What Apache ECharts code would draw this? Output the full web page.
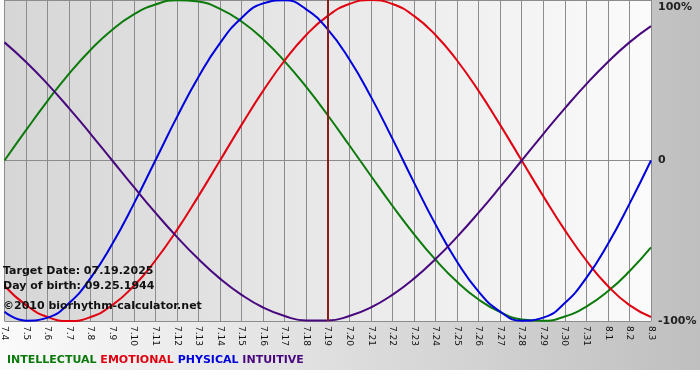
<!DOCTYPE html>
<html>
<head>
<meta charset="utf-8">
<script src="https://cdn.jsdelivr.net/npm/echarts@6/dist/echarts.min.js"></script>
<style>
  html, body { margin: 0; padding: 0; background: #fff; }
  #chart { width: 700px; height: 380px; }
</style>
</head>
<body>
<div id="chart"></div>
<script>
// days shown on the x axis
var days = ['7.4', '7.5', '7.6', '7.7', '7.8', '7.9', '7.10', '7.11', '7.12', '7.13', '7.14',
    '7.15', '7.16', '7.17', '7.18', '7.19', '7.20', '7.21', '7.22', '7.23', '7.24', '7.25',
    '7.26', '7.27', '7.28', '7.29', '7.30', '7.31', '8.1', '8.2', '8.3'];

// cycle values in percent, one per day
var intellectual = [0, 18.9, 37.2, 54.1, 69.0, 81.5, 91.0, 97.2, 99.9, 99.0, 94.5, 86.6, 75.6, 61.8, 45.8, 28.2,
    9.5, -9.5, -28.2, -45.8, -61.8, -75.6, -86.6, -94.5, -99.0, -99.9, -97.2, -91.0, -81.5, -69.0, -54.1];
var emotional = [-78.2, -90.1, -97.5, -100, -97.5, -90.1, -78.2, -62.3, -43.4, -22.2, 0, 22.2, 43.4, 62.3, 78.2, 90.1,
    97.5, 100, 97.5, 90.1, 78.2, 62.3, 43.4, 22.2, 0, -22.2, -43.4, -62.3, -78.2, -90.1, -97.5];
var physical = [-94.2, -99.8, -97.9, -88.8, -73.1, -52.0, -27.0, 0, 27.0, 52.0, 73.1, 88.8, 97.9, 99.8, 94.2, 81.7,
    63.1, 39.8, 13.6, -13.6, -39.8, -63.1, -81.7, -94.2, -99.8, -97.9, -88.8, -73.1, -52.0, -27.0, 0];
var intuitive = [73.6, 61.4, 47.6, 32.5, 16.5, 0, -16.5, -32.5, -47.6, -61.4, -73.6, -83.7, -91.6, -96.9, -99.7, -99.7,
    -96.9, -91.6, -83.7, -73.6, -61.4, -47.6, -32.5, -16.5, 0, 16.5, 32.5, 47.6, 61.4, 73.6, 83.7];

var yTicks = [-100, 0, 100];
var yTickLabels = ['-100%', '0', '100%'];
var targetDay = '7.19';
var infoLines = ['Target Date: 07.19.2025', 'Day of birth: 09.25.1944', '\u00a92010 biorhythm-calculator.net'];

var FONT = '"DejaVu Sans", Verdana, sans-serif';

function make_line(name, data, color) {
    return {
        name: name,
        type: 'line',
        data: data,
        smooth: true,
        symbol: 'none',
        lineStyle: { color: color, width: 2 },
        itemStyle: { color: color },
        silent: true
    };
}

var chart = echarts.init(document.getElementById('chart'));

var series = [
    make_line('INTELLECTUAL', intellectual, '#0b7a0b'),
    make_line('EMOTIONAL', emotional, '#e00010'),
    make_line('PHYSICAL', physical, '#0000dd'),
    make_line('INTUITIVE', intuitive, '#48087e')
];
// target date marker
series[0].markLine = {
    silent: true,
    symbol: 'none',
    label: { show: false },
    lineStyle: { color: '#8a1c1c', width: 2, type: 'solid' },
    data: [{ xAxis: targetDay }]
};

var option = {
    backgroundColor: '#fff',
    animation: false,
    graphic: [
        {
            type: 'rect', z: -10, left: 0, top: 0,
            shape: { width: 700, height: 370 },
            style: {
                fill: new echarts.graphic.LinearGradient(0, 0, 1, 0, [
                    { offset: 0, color: '#fbfbfb' },
                    { offset: 1, color: '#bfbfbf' }
                ])
            }
        },
        { type: 'text', left: 3, top: 266, z: 10, style: { text: infoLines[0], font: 'bold 11px ' + FONT, fill: '#111' } },
        { type: 'text', left: 3, top: 281, z: 10, style: { text: infoLines[1], font: 'bold 11px ' + FONT, fill: '#111' } },
        { type: 'text', left: 3, top: 301, z: 10, style: { text: infoLines[2], font: 'bold 11px ' + FONT, fill: '#111' } },
        {
            type: 'text', left: 7, top: 355, z: 10,
            style: {
                text: '{g|INTELLECTUAL} {r|EMOTIONAL} {b|PHYSICAL} {p|INTUITIVE}',
                font: 'bold 11px ' + FONT,
                rich: {
                    g: { fill: '#0b7a0b', font: 'bold 11px ' + FONT },
                    r: { fill: '#e00010', font: 'bold 11px ' + FONT },
                    b: { fill: '#0000dd', font: 'bold 11px ' + FONT },
                    p: { fill: '#48087e', font: 'bold 11px ' + FONT }
                }
            }
        }
    ],
    grid: {
        left: 0, right: 49, top: 0, bottom: 59,
        show: true,
        borderWidth: 0,
        backgroundColor: new echarts.graphic.LinearGradient(0, 0, 1, 0, [
            { offset: 0, color: '#d6d6d6' },
            { offset: 1, color: '#fbfbfb' }
        ])
    },
    xAxis: {
        type: 'category',
        data: days,
        boundaryGap: false,
        axisLine: { show: false },
        axisTick: { show: true, interval: 0, length: 4, lineStyle: { color: '#888' } },
        axisLabel: {
            interval: 0, rotate: -90, margin: 5,
            fontFamily: FONT, fontSize: 9, color: '#111'
        },
        splitLine: { show: true, interval: 0, lineStyle: { color: '#8c8c8c', width: 1 } }
    },
    yAxis: {
        type: 'value',
        position: 'right',
        min: -100, max: 100, interval: 100,
        axisLine: { show: false },
        axisTick: { show: false },
        splitLine: { show: true, lineStyle: { color: '#8c8c8c', width: 1 } },
        axisLabel: {
            margin: 7,
            fontFamily: FONT, fontSize: 11, fontWeight: 'bold', color: '#222',
            formatter: function (v) {
                var s = yTickLabels[yTicks.indexOf(v)];
                return v === 100 ? '{top|' + s + '}' : s;
            },
            rich: {
                top: { padding: [14, 0, 0, 0], fontFamily: FONT, fontSize: 11, fontWeight: 'bold', color: '#222' }
            }
        }
    },
    series: series
};

chart.setOption(option);
</script>
</body>
</html>
